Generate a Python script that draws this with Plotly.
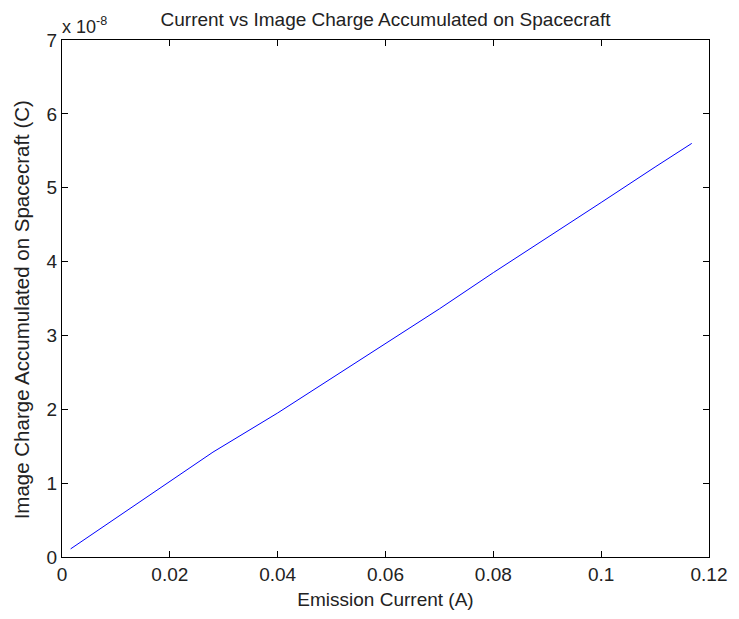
import plotly.graph_objects as go

# Data
emission_current = [0.0016, 0.004, 0.01, 0.02, 0.028, 0.04, 0.05, 0.06,
                    0.07, 0.08, 0.09, 0.10, 0.11, 0.1168]
# Image charge in units of 1e-8 C
image_charge_e8 = [0.11, 0.23, 0.53, 1.03, 1.42, 1.95, 2.42, 2.88,
                   3.36, 3.85, 4.32, 4.80, 5.28, 5.60]
image_charge = [v * 1e-8 for v in image_charge_e8]

x_ticks = [0, 0.02, 0.04, 0.06, 0.08, 0.1, 0.12]
x_tick_labels = ["0", "0.02", "0.04", "0.06", "0.08", "0.1", "0.12"]
y_ticks = [i * 1e-8 for i in range(8)]
y_tick_labels = [str(i) for i in range(8)]

FONT = "Liberation Sans, Arial, sans-serif"
FS = 19

fig = go.Figure()
fig.add_trace(go.Scatter(x=emission_current, y=image_charge, mode="lines",
                         line=dict(color="#0000ff", width=1), showlegend=False))

axis_common = dict(showline=True, linecolor="black", linewidth=1.3, mirror="ticks",
                   ticks="inside", ticklen=6, tickcolor="black", tickwidth=1.3,
                   showgrid=False, zeroline=False,
                   tickfont=dict(family=FONT, size=FS, color="#222222"))

fig.update_layout(
    width=739, height=619,
    margin=dict(l=62, r=23, t=40, b=62),
    paper_bgcolor="white", plot_bgcolor="white",
    title=dict(text="Current vs Image Charge Accumulated on Spacecraft",
               font=dict(family=FONT, size=FS, color="#222222"),
               x=0.5, xref="paper", y=1 - 19 / 619, yref="container",
               xanchor="center", yanchor="middle"),
    xaxis=dict(range=[0, 0.12], tickvals=x_ticks, ticktext=x_tick_labels,
               title=dict(text="Emission Current (A)", standoff=8,
                          font=dict(family=FONT, size=FS, color="#222222")),
               **axis_common),
    yaxis=dict(range=[0, 7e-8], tickvals=y_ticks, ticktext=y_tick_labels,
               **axis_common),
    annotations=[
        dict(text="x 10<sup>-8</sup>", xref="paper", yref="paper",
             x=0, y=1, xanchor="left", yanchor="bottom", showarrow=False,
             xshift=-2, yshift=1,
             font=dict(family=FONT, size=18, color="#222222")),
        dict(text="Image Charge Accumulated on Spacecraft (C)", textangle=-90,
             xref="paper", yref="paper", x=0, y=0.478, xanchor="center",
             yanchor="middle", xshift=-40.5, showarrow=False,
             font=dict(family=FONT, size=20.5, color="#222222")),
    ],
)

fig.write_html("out.html")
